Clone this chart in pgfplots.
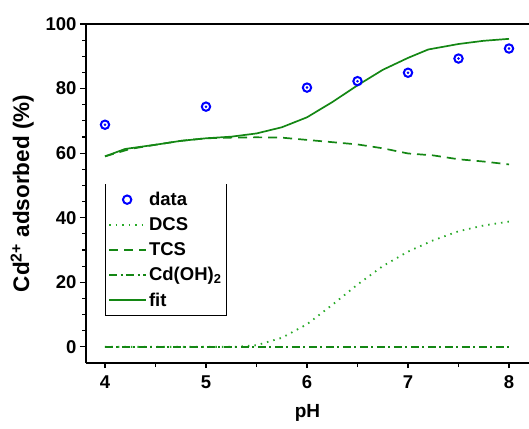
\documentclass[border=0pt]{standalone}
\usepackage{pgfplots}
\pgfplotsset{compat=1.18}
\usepackage{fontspec}
\setmainfont{Liberation Sans}
\definecolor{dgreen}{RGB}{20,135,20}
\definecolor{lgreen}{RGB}{40,170,40}
\pgfplotsset{
  longline/.style={legend image code/.code={\draw[##1] (0pt,0pt) -- (37pt,0pt);}},
  longmark/.style={legend image code/.code={\draw[##1] plot coordinates {(18pt,0pt)};}},
}
\begin{document}
\begin{tikzpicture}
\begin{axis}[
  at={(86pt,65pt)}, anchor=south west,
  scale only axis, width=443pt, height=339pt,
  xmin=3.812, xmax=8.198, ymin=-5, ymax=100,
  axis x line=box, axis y line=left,
  axis line style={line width=1.3pt, -},
  xtick={4,5,6,7,8}, minor x tick num=1,
  ytick={0,20,40,60,80,100}, minor y tick num=3,
  tick align=outside,
  major tick length=6pt, minor tick length=4pt,
  every tick/.style={black, line width=1.2pt},
  x tick style={/pgfplots/major tick length=5pt, /pgfplots/minor tick length=4pt},
  xtick pos=bottom,
  /pgf/number format/assume math mode=true,
  ticklabel style={font=\fontsize{18.5}{20}\selectfont\bfseries},
  xticklabel style={yshift=-3pt},
  xlabel={pH}, ylabel={Cd\textsuperscript{2+} adsorbed (\%)},
  xlabel style={font=\fontsize{19}{20}\selectfont\bfseries, yshift=-9pt},
  ylabel style={font=\fontsize{22.5}{24}\selectfont\bfseries, yshift=5pt},
  legend style={at={(rel axis cs:0.043,0.528)}, anchor=north west, draw=none, fill=none,
    font=\fontsize{18.5}{20}\selectfont\bfseries, row sep=6.5pt, inner xsep=3pt, inner ysep=6pt,
    /tikz/every even column/.append style={column sep=2pt}},
  legend cell align=left,
  every axis legend/.append style={name=leg},
]
\addplot[only marks, mark=o, mark size=4.2pt, blue, mark options={line width=2pt}, longmark] coordinates {
(4,68.8) (5,74.4) (6,80.3) (6.5,82.3) (7,84.9) (7.5,89.3) (8,92.4)};
\addlegendentry{data}
\addplot[lgreen, line width=1.8pt, dash pattern=on 1.5pt off 5pt, longline] coordinates {
(4,0) (4.5,0) (5,0) (5.3,0) (5.5,0.5) (5.75,2.8) (6,7) (6.25,13) (6.5,19.3) (6.75,25) (7,29.5) (7.25,33) (7.5,35.8) (7.75,37.6) (8,38.8)};
\addlegendentry{DCS}
\addplot[dgreen, line width=1.7pt, dash pattern=on 9pt off 6pt, longline] coordinates {
(4,59) (4.25,61.3) (4.5,62.6) (4.75,63.8) (5,64.6) (5.25,64.8) (5.5,64.9) (5.75,64.8) (6,64.1) (6.25,63.4) (6.5,62.7) (6.75,61.5) (7,59.9) (7.25,59.3) (7.5,58.1) (7.75,57.4) (8,56.5)};
\addlegendentry{TCS}
\addplot[dgreen, line width=1.7pt, dash pattern=on 8pt off 3.5pt on 2pt off 3.5pt, longline] coordinates {
(4,0) (5,0) (6,0) (7,0) (8,0)};
\addlegendentry{Cd(OH)\textsubscript{2}}
\addplot[dgreen, line width=1.7pt, longline] coordinates {
(4,59) (4.2,61.3) (4.5,62.6) (4.75,63.8) (5,64.6) (5.25,65.1) (5.5,66.1) (5.75,68) (6,71.1) (6.25,75.8) (6.5,81) (6.75,85.8) (7,89.5) (7.2,92.1) (7.5,93.8) (7.75,94.8) (8,95.4)};
\addlegendentry{fit}
\addplot[only marks, mark=*, mark size=1.1pt, blue, forget plot] coordinates {
(4,68.8) (5,74.4) (6,80.3) (6.5,82.3) (7,84.9) (7.5,89.3) (8,92.4)};
\end{axis}
\draw[black, line width=1pt] (leg.north west) -- (leg.south west) -- (leg.south east) -- (leg.north east);
\pgfresetboundingbox
\path[use as bounding box] (0,0) rectangle (529pt,428pt);
\end{tikzpicture}
\end{document}
